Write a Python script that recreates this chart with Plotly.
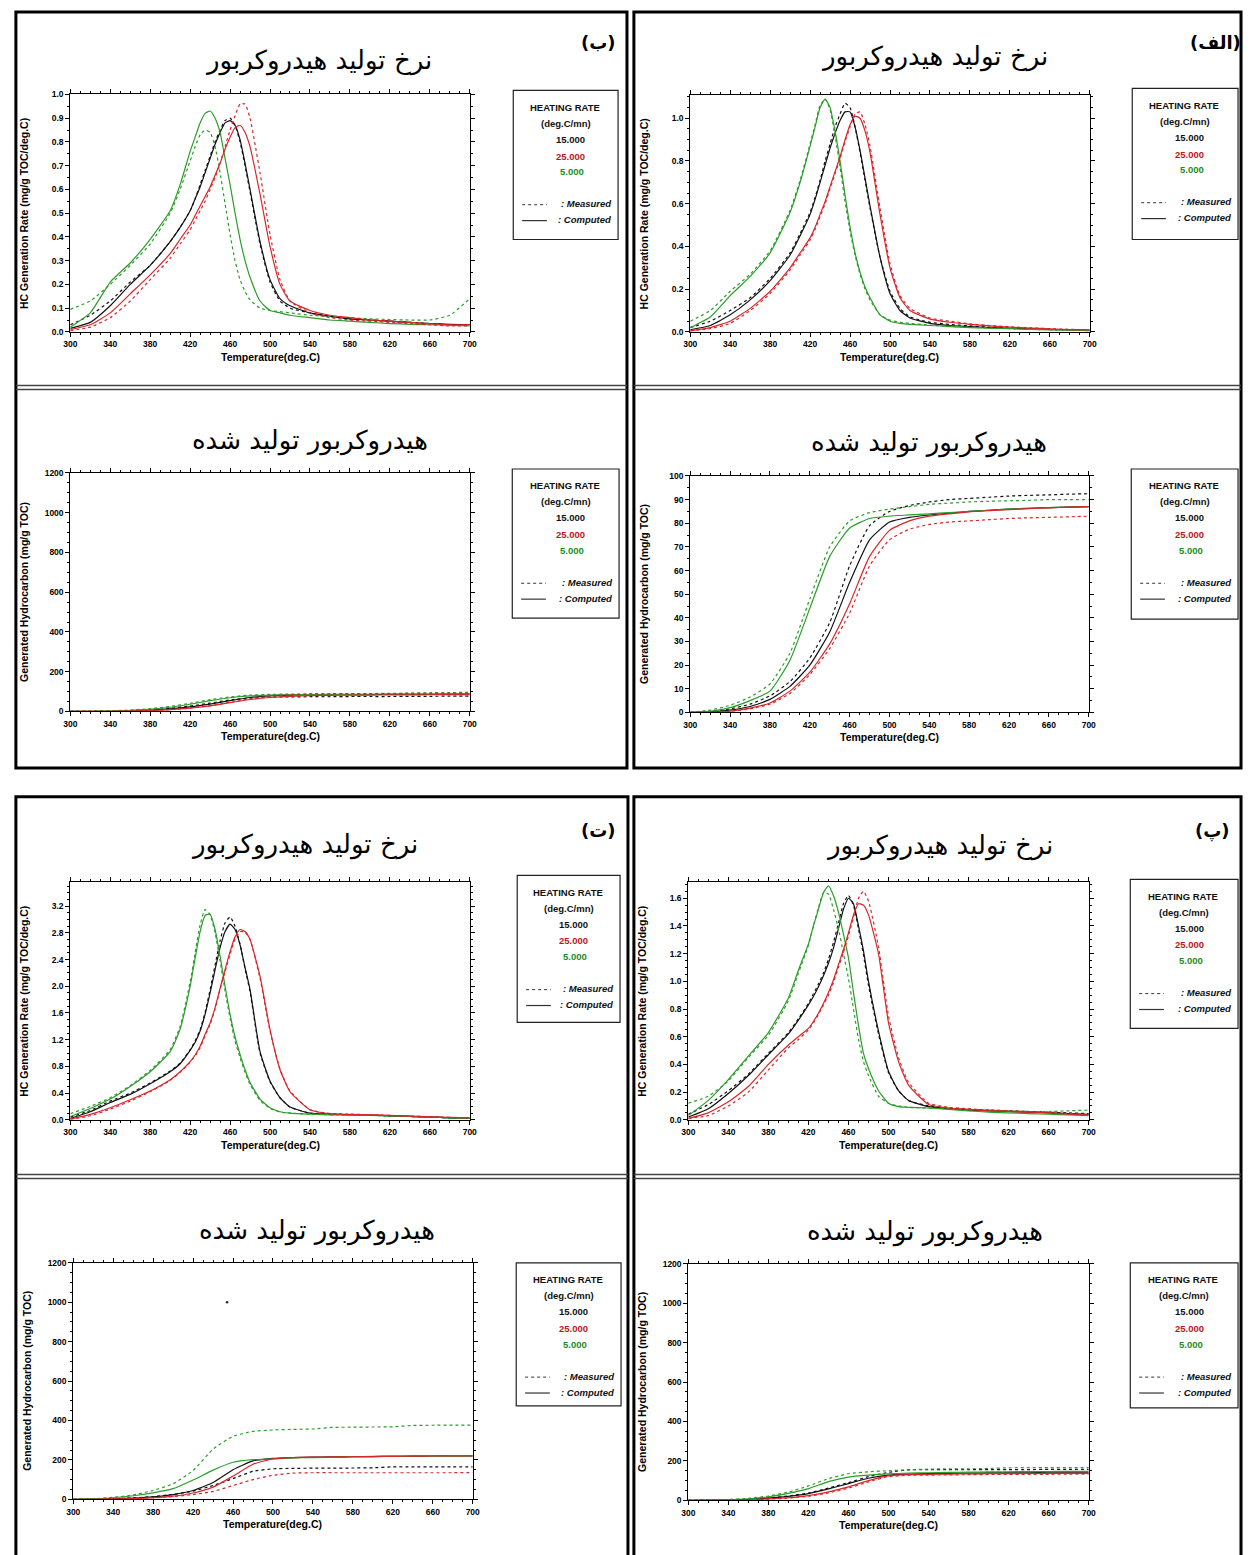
import plotly.graph_objects as go

W, H = 1250, 1555

# ---------------- data ----------------
T_RATE = [300, 320, 340, 360, 380, 400, 410, 420, 425, 430, 435, 440, 445, 450, 455, 460, 465,
          470, 475, 480, 490, 500, 510, 520, 540, 560, 580, 600, 620, 640, 660, 680, 700]
T_CUM = [300, 320, 340, 360, 380, 400, 420, 440, 460, 480, 500, 520, 540, 560, 580, 600, 620,
         640, 660, 680, 700]

HEATING_RATES = ["15.000", "25.000", "5.000"]
RATE_TITLE_FA = "نرخ تولید هیدروکربور"
CUM_TITLE_FA = "هیدروکربور تولید شده"
PANEL_LABELS = ["(الف)", "(ب)", "(پ)", "(ت)"]
RATE_YTITLE = "HC Generation Rate (mg/g TOC/deg.C)"
CUM_YTITLE = "Generated Hydrocarbon (mg/g TOC)"
XTITLE = "Temperature(deg.C)"

# Panel (الف) - rate
A_RATE_15_COMP = [0.01, 0.03, 0.08, 0.15, 0.24, 0.36, 0.45, 0.55, 0.62, 0.70, 0.78, 0.86, 0.93, 0.99, 1.03, 1.03, 0.96,
                  0.85, 0.72, 0.59, 0.35, 0.18, 0.10, 0.065, 0.04, 0.03, 0.025, 0.02, 0.017, 0.014, 0.011, 0.009, 0.007]
A_RATE_15_MEAS = [0.02, 0.05, 0.10, 0.16, 0.25, 0.37, 0.46, 0.56, 0.63, 0.71, 0.80, 0.88, 0.96, 1.02, 1.07, 1.05, 0.96,
                  0.84, 0.71, 0.58, 0.35, 0.19, 0.11, 0.07, 0.045, 0.035, 0.028, 0.022, 0.018, 0.015, 0.012, 0.01, 0.008]
A_RATE_25_COMP = [0.005, 0.02, 0.05, 0.11, 0.19, 0.30, 0.37, 0.44, 0.49, 0.55, 0.61, 0.68, 0.75, 0.82, 0.90, 0.97, 1.01,
                  1.00, 0.94, 0.84, 0.55, 0.30, 0.16, 0.10, 0.06, 0.045, 0.035, 0.028, 0.022, 0.018, 0.014, 0.011, 0.009]
A_RATE_25_MEAS = [0.005, 0.015, 0.04, 0.10, 0.18, 0.29, 0.36, 0.43, 0.48, 0.54, 0.60, 0.67, 0.74, 0.81, 0.89, 0.96, 1.02,
                  1.03, 0.97, 0.87, 0.58, 0.32, 0.17, 0.11, 0.065, 0.05, 0.038, 0.03, 0.024, 0.019, 0.015, 0.012, 0.01]
A_RATE_5_COMP = [0.02, 0.07, 0.17, 0.26, 0.37, 0.56, 0.70, 0.87, 0.96, 1.05, 1.09, 1.05, 0.94, 0.80, 0.64, 0.49, 0.37,
                 0.28, 0.21, 0.16, 0.08, 0.05, 0.04, 0.035, 0.03, 0.025, 0.02, 0.017, 0.015, 0.012, 0.01, 0.008, 0.006]
A_RATE_5_MEAS = [0.05, 0.10, 0.19, 0.27, 0.38, 0.57, 0.71, 0.88, 0.97, 1.06, 1.09, 1.04, 0.92, 0.77, 0.61, 0.47, 0.36,
                 0.27, 0.20, 0.15, 0.08, 0.055, 0.045, 0.04, 0.032, 0.026, 0.022, 0.018, 0.015, 0.012, 0.01, 0.008, 0.006]

# Panel (الف) - cumulative
A_CUM_15_COMP = [0, 0.2, 1, 2.5, 5.5, 11, 20, 34, 55, 73, 80.5, 82.5, 83.5, 84.3, 85, 85.5, 86, 86.3, 86.6, 86.8, 87]
A_CUM_15_MEAS = [0, 0.5, 1.5, 3.5, 7, 13, 23, 38, 62, 79, 85, 87.5, 89, 90, 90.5, 91, 91.5, 91.8, 92, 92.3, 92.5]
A_CUM_25_COMP = [0, 0.1, 0.5, 1.8, 4, 9, 17, 29, 46, 66, 77, 81, 83, 84, 84.8, 85.3, 85.8, 86.2, 86.5, 86.8, 87]
A_CUM_25_MEAS = [0, 0.1, 0.5, 1.5, 3.5, 8, 16, 27, 42, 62, 73, 77.5, 79.5, 80.5, 81, 81.5, 82, 82.3, 82.5, 82.7, 83]
A_CUM_5_COMP = [0, 0.5, 2, 5, 9, 22, 44, 66, 78, 82, 83, 83.5, 84, 84.5, 85, 85.5, 86, 86.3, 86.6, 86.8, 87]
A_CUM_5_MEAS = [0, 1, 3, 6.5, 12, 25, 48, 70, 81, 84.5, 86, 87, 88, 88.5, 89, 89.3, 89.5, 89.7, 90, 90, 90]

# Panel (ب) - rate
B_RATE_15_COMP = [0.015, 0.04, 0.11, 0.20, 0.28, 0.38, 0.44, 0.51, 0.56, 0.61, 0.67, 0.73, 0.79, 0.84, 0.88, 0.89, 0.87,
                  0.81, 0.71, 0.60, 0.38, 0.22, 0.14, 0.11, 0.08, 0.065, 0.055, 0.05, 0.045, 0.04, 0.035, 0.032, 0.03]
B_RATE_15_MEAS = [0.03, 0.07, 0.13, 0.21, 0.28, 0.38, 0.44, 0.51, 0.56, 0.62, 0.68, 0.74, 0.80, 0.85, 0.89, 0.90, 0.87,
                  0.80, 0.70, 0.59, 0.37, 0.21, 0.13, 0.10, 0.08, 0.065, 0.055, 0.05, 0.045, 0.04, 0.035, 0.03, 0.03]
B_RATE_25_COMP = [0.01, 0.03, 0.08, 0.16, 0.24, 0.33, 0.39, 0.45, 0.49, 0.53, 0.57, 0.61, 0.66, 0.71, 0.77, 0.82, 0.86,
                  0.87, 0.84, 0.78, 0.58, 0.36, 0.20, 0.13, 0.09, 0.07, 0.06, 0.05, 0.045, 0.04, 0.035, 0.03, 0.03]
B_RATE_25_MEAS = [0.005, 0.02, 0.06, 0.13, 0.22, 0.31, 0.37, 0.43, 0.47, 0.51, 0.55, 0.60, 0.65, 0.71, 0.78, 0.85, 0.91,
                  0.96, 0.96, 0.90, 0.67, 0.41, 0.22, 0.13, 0.08, 0.06, 0.05, 0.045, 0.04, 0.035, 0.03, 0.025, 0.025]
B_RATE_5_COMP = [0.02, 0.08, 0.21, 0.29, 0.39, 0.51, 0.62, 0.76, 0.82, 0.88, 0.92, 0.93, 0.90, 0.84, 0.73, 0.62, 0.50,
                 0.39, 0.30, 0.23, 0.13, 0.09, 0.08, 0.07, 0.06, 0.05, 0.045, 0.04, 0.035, 0.032, 0.03, 0.028, 0.025]
B_RATE_5_MEAS = [0.095, 0.13, 0.20, 0.28, 0.37, 0.50, 0.60, 0.72, 0.78, 0.83, 0.85, 0.84, 0.78, 0.67, 0.54, 0.41, 0.30,
                 0.22, 0.17, 0.135, 0.10, 0.09, 0.085, 0.08, 0.07, 0.065, 0.06, 0.055, 0.052, 0.05, 0.05, 0.07, 0.14]

# Panel (ب) - cumulative
B_CUM_15_COMP = [0, 0.3, 1, 3, 7, 13, 23, 37, 54, 70, 78, 82, 83.5, 84, 84.5, 85, 85.5, 86, 86.5, 87, 87]
B_CUM_15_MEAS = [0, 0.5, 1.5, 4, 9, 16, 27, 42, 58, 68, 72, 73, 74, 74, 75, 75, 75, 76, 76, 77, 77]
B_CUM_25_COMP = [0, 0.1, 0.5, 1.5, 4, 9, 17, 28, 44, 60, 70, 76, 80, 81, 82, 82.5, 83, 83.5, 84, 84.5, 85]
B_CUM_25_MEAS = [0, 0.1, 0.5, 1.5, 4, 9, 17, 29, 46, 63, 76, 84, 88, 89, 89.5, 90, 90, 90.5, 91, 91, 91]
B_CUM_5_COMP = [0, 0.5, 2, 5, 11, 21, 36, 54, 69, 78, 82, 84, 85, 85.5, 86, 86.5, 87, 87, 87.5, 88, 88]
B_CUM_5_MEAS = [0, 1, 3, 7, 14, 25, 41, 59, 73, 82, 86, 87, 88, 88.5, 89, 90, 91, 92, 94, 95, 96]

# Panel (پ) - rate
P_RATE_15_COMP = [0.02, 0.08, 0.19, 0.32, 0.47, 0.62, 0.72, 0.83, 0.89, 0.96, 1.04, 1.13, 1.24, 1.38, 1.52, 1.60, 1.56,
                  1.40, 1.22, 1.00, 0.64, 0.35, 0.21, 0.14, 0.095, 0.08, 0.07, 0.065, 0.06, 0.055, 0.05, 0.045, 0.04]
P_RATE_15_MEAS = [0.04, 0.11, 0.21, 0.33, 0.48, 0.63, 0.73, 0.84, 0.91, 0.98, 1.06, 1.16, 1.28, 1.42, 1.56, 1.62, 1.55,
                  1.38, 1.19, 0.97, 0.62, 0.34, 0.21, 0.14, 0.10, 0.085, 0.075, 0.07, 0.065, 0.06, 0.055, 0.05, 0.045]
P_RATE_25_COMP = [0.01, 0.05, 0.13, 0.24, 0.40, 0.54, 0.60, 0.66, 0.71, 0.77, 0.84, 0.92, 1.01, 1.12, 1.23, 1.35, 1.48,
                  1.56, 1.55, 1.48, 1.20, 0.70, 0.42, 0.25, 0.11, 0.085, 0.075, 0.065, 0.06, 0.055, 0.05, 0.04, 0.035]
P_RATE_25_MEAS = [0.01, 0.03, 0.10, 0.20, 0.36, 0.52, 0.58, 0.65, 0.70, 0.76, 0.83, 0.90, 0.99, 1.10, 1.21, 1.33, 1.46,
                  1.60, 1.65, 1.58, 1.25, 0.75, 0.45, 0.27, 0.12, 0.09, 0.08, 0.07, 0.065, 0.06, 0.05, 0.045, 0.04]
P_RATE_5_COMP = [0.03, 0.14, 0.29, 0.46, 0.63, 0.88, 1.08, 1.27, 1.40, 1.52, 1.64, 1.69, 1.62, 1.50, 1.34, 1.17, 0.92,
                 0.68, 0.48, 0.37, 0.21, 0.12, 0.095, 0.09, 0.085, 0.075, 0.065, 0.055, 0.05, 0.045, 0.04, 0.035, 0.03]
P_RATE_5_MEAS = [0.12, 0.17, 0.28, 0.45, 0.61, 0.86, 1.06, 1.26, 1.40, 1.53, 1.64, 1.63, 1.52, 1.38, 1.20, 1.02, 0.80,
                 0.58, 0.42, 0.32, 0.17, 0.12, 0.10, 0.09, 0.085, 0.08, 0.075, 0.07, 0.065, 0.06, 0.06, 0.065, 0.07]

# Panel (پ) - cumulative
P_CUM_15_COMP = [0, 0.5, 2, 5, 11, 20, 34, 58, 85, 112, 128, 133, 135, 137, 138, 139, 139, 140, 140, 140, 140]
P_CUM_15_MEAS = [0, 1, 3, 6, 12, 22, 37, 62, 90, 120, 142, 155, 156, 156, 156, 156, 156, 156, 157, 157, 157]
P_CUM_25_COMP = [0, 0.3, 1, 3, 7, 13, 24, 43, 68, 100, 124, 130, 132, 133, 134, 135, 135, 136, 136, 137, 137]
P_CUM_25_MEAS = [0, 0.3, 1, 3, 6, 11, 21, 38, 62, 94, 120, 127, 128, 129, 130, 131, 131, 132, 132, 133, 133]
P_CUM_5_COMP = [0, 1, 3, 8, 18, 35, 59, 95, 118, 128, 134, 138, 140, 142, 143, 144, 145, 146, 146, 147, 147]
P_CUM_5_MEAS = [0, 1, 4, 10, 22, 42, 73, 110, 135, 145, 150, 155, 158, 160, 160, 162, 165, 166, 166, 166, 166]

# Panel (ت) - rate
T_RATE_15_COMP = [0.02, 0.12, 0.26, 0.38, 0.54, 0.72, 0.84, 1.04, 1.16, 1.33, 1.58, 1.90, 2.25, 2.58, 2.82, 2.93, 2.85,
                  2.62, 2.28, 1.95, 1.02, 0.58, 0.33, 0.19, 0.10, 0.085, 0.075, 0.07, 0.06, 0.05, 0.04, 0.03, 0.02]
T_RATE_15_MEAS = [0.04, 0.14, 0.28, 0.40, 0.55, 0.73, 0.85, 1.05, 1.18, 1.35, 1.61, 1.95, 2.32, 2.68, 2.95, 3.04, 2.90,
                  2.63, 2.26, 1.92, 1.00, 0.57, 0.33, 0.19, 0.10, 0.085, 0.075, 0.07, 0.06, 0.05, 0.04, 0.03, 0.02]
T_RATE_25_COMP = [0.01, 0.08, 0.18, 0.30, 0.43, 0.60, 0.72, 0.87, 0.97, 1.10, 1.28, 1.45, 1.68, 1.97, 2.25, 2.52, 2.74,
                  2.85, 2.82, 2.70, 2.15, 1.35, 0.75, 0.42, 0.15, 0.09, 0.08, 0.075, 0.065, 0.055, 0.045, 0.035, 0.03]
T_RATE_25_MEAS = [0.005, 0.06, 0.16, 0.28, 0.42, 0.59, 0.71, 0.86, 0.96, 1.08, 1.26, 1.43, 1.66, 1.95, 2.22, 2.48, 2.70,
                  2.82, 2.81, 2.70, 2.12, 1.33, 0.76, 0.43, 0.15, 0.095, 0.085, 0.075, 0.065, 0.055, 0.045, 0.035, 0.03]
T_RATE_5_COMP = [0.05, 0.17, 0.31, 0.50, 0.72, 1.02, 1.36, 2.00, 2.42, 2.82, 3.06, 3.08, 2.85, 2.45, 2.00, 1.58, 1.24,
                 0.98, 0.75, 0.56, 0.31, 0.18, 0.12, 0.10, 0.085, 0.075, 0.07, 0.065, 0.06, 0.05, 0.04, 0.03, 0.02]
T_RATE_5_MEAS = [0.09, 0.20, 0.33, 0.51, 0.74, 1.05, 1.40, 2.06, 2.50, 2.92, 3.15, 3.07, 2.80, 2.38, 1.93, 1.52, 1.18,
                 0.93, 0.71, 0.53, 0.29, 0.17, 0.115, 0.10, 0.085, 0.075, 0.07, 0.065, 0.06, 0.05, 0.04, 0.03, 0.02]

# Panel (ت) - cumulative
T_CUM_15_COMP = [0, 1, 3, 6, 12, 24, 45, 85, 150, 195, 208, 212, 214, 215, 216, 217, 218, 219, 220, 220, 221]
T_CUM_15_MEAS = [0, 1, 3, 7, 14, 25, 42, 70, 105, 142, 155, 157, 158, 158, 159, 160, 165, 165, 165, 165, 165]
T_CUM_25_COMP = [0, 0.5, 2, 4, 8, 16, 32, 62, 118, 178, 205, 212, 214, 215, 216, 217, 218, 219, 220, 220, 220]
T_CUM_25_MEAS = [0, 0.5, 2, 4, 8, 14, 24, 40, 70, 100, 122, 133, 135, 135, 135, 135, 135, 135, 135, 135, 136]
T_CUM_5_COMP = [0, 2, 8, 18, 33, 54, 98, 148, 188, 201, 205, 210, 212, 214, 216, 218, 219, 220, 220, 221, 221]
T_CUM_5_MEAS = [0, 3, 10, 22, 45, 79, 146, 255, 320, 345, 352, 355, 357, 365, 366, 367, 368, 375, 376, 377, 377]
T_CUM_STRAY_X = [454]
T_CUM_STRAY_Y = [1000]

# ---------------- styling ----------------
COL = {"15": "#111111", "25": "#d8262b", "5": "#2a9d2a"}
LEG_COL = {"15": "#111111", "25": "#c0141c", "5": "#1c8c1c"}
TXT_FONT = "Liberation Sans, Arial, sans-serif"
FA_FONT = "DejaVu Sans, Noto Sans, sans-serif"


def pxx(x):
    return x / W


def pyy(y):
    return 1 - y / H


subplots = [
    dict(frame=(691, 91, 1095, 329), yr=[0, 1.107], dt=0.2, mn=0.05, fmt=".1f", ytitle=RATE_YTITLE,
         title=RATE_TITLE_FA, tpos=(938, 52), leg=(1138, 84, 1245, 236), x=T_RATE,
         data={"15": (A_RATE_15_COMP, A_RATE_15_MEAS), "25": (A_RATE_25_COMP, A_RATE_25_MEAS),
               "5": (A_RATE_5_COMP, A_RATE_5_MEAS)}),
    dict(frame=(691, 474, 1094, 712), yr=[0, 100], dt=10, mn=5, fmt="d", ytitle=CUM_YTITLE,
         title=CUM_TITLE_FA, tpos=(932, 440), leg=(1137, 467, 1245, 618), x=T_CUM,
         data={"15": (A_CUM_15_COMP, A_CUM_15_MEAS), "25": (A_CUM_25_COMP, A_CUM_25_MEAS),
               "5": (A_CUM_5_COMP, A_CUM_5_MEAS)}),
    dict(frame=(64, 90, 468, 329), yr=[0, 1.0], dt=0.1, mn=0.05, fmt=".1f", ytitle=RATE_YTITLE,
         title=RATE_TITLE_FA, tpos=(315, 56), leg=(512, 86, 618, 236), x=T_RATE,
         data={"15": (B_RATE_15_COMP, B_RATE_15_MEAS), "25": (B_RATE_25_COMP, B_RATE_25_MEAS),
               "5": (B_RATE_5_COMP, B_RATE_5_MEAS)}),
    dict(frame=(64, 471, 468, 711), yr=[0, 1200], dt=200, mn=50, fmt="d", ytitle=CUM_YTITLE,
         title=CUM_TITLE_FA, tpos=(306, 438), leg=(511, 467, 619, 617), x=T_CUM,
         data={"15": (B_CUM_15_COMP, B_CUM_15_MEAS), "25": (B_CUM_25_COMP, B_CUM_25_MEAS),
               "5": (B_CUM_5_COMP, B_CUM_5_MEAS)}),
    dict(frame=(689, 883, 1094, 1122), yr=[0, 1.715], dt=0.2, mn=0.05, fmt=".1f", ytitle=RATE_YTITLE,
         title=RATE_TITLE_FA, tpos=(943, 846), leg=(1136, 880, 1245, 1030), x=T_RATE,
         data={"15": (P_RATE_15_COMP, P_RATE_15_MEAS), "25": (P_RATE_25_COMP, P_RATE_25_MEAS),
               "5": (P_RATE_5_COMP, P_RATE_5_MEAS)}),
    dict(frame=(689, 1267, 1094, 1505), yr=[0, 1200], dt=200, mn=50, fmt="d", ytitle=CUM_YTITLE,
         title=CUM_TITLE_FA, tpos=(928, 1234), leg=(1136, 1266, 1245, 1412), x=T_CUM,
         data={"15": (P_CUM_15_COMP, P_CUM_15_MEAS), "25": (P_CUM_25_COMP, P_CUM_25_MEAS),
               "5": (P_CUM_5_COMP, P_CUM_5_MEAS)}),
    dict(frame=(64, 883, 468, 1122), yr=[0, 3.557], dt=0.4, mn=0.1, fmt=".1f", ytitle=RATE_YTITLE,
         title=RATE_TITLE_FA, tpos=(301, 845), leg=(516, 876, 620, 1024), x=T_RATE,
         data={"15": (T_RATE_15_COMP, T_RATE_15_MEAS), "25": (T_RATE_25_COMP, T_RATE_25_MEAS),
               "5": (T_RATE_5_COMP, T_RATE_5_MEAS)}),
    dict(frame=(67, 1266, 471, 1504), yr=[0, 1200], dt=200, mn=50, fmt="d", ytitle=CUM_YTITLE,
         title=CUM_TITLE_FA, tpos=(314, 1233), leg=(515, 1266, 621, 1410), x=T_CUM,
         data={"15": (T_CUM_15_COMP, T_CUM_15_MEAS), "25": (T_CUM_25_COMP, T_CUM_25_MEAS),
               "5": (T_CUM_5_COMP, T_CUM_5_MEAS)}),
]

fig = go.Figure()
layout = dict(width=W, height=H, margin=dict(l=0, r=0, t=0, b=0), paper_bgcolor="white",
              plot_bgcolor="white", showlegend=False)
annotations = []
shapes = []


def tick_font():
    return dict(family=TXT_FONT, size=8.5, color="black", weight="bold")


for i, sp in enumerate(subplots, start=1):
    x0, y0, x1, y1 = sp["frame"]
    xname = "xaxis" if i == 1 else f"xaxis{i}"
    yname = "yaxis" if i == 1 else f"yaxis{i}"
    xref = "x" if i == 1 else f"x{i}"
    yref = "y" if i == 1 else f"y{i}"
    common = dict(showline=True, linecolor="black", linewidth=1, mirror="allticks", ticks="outside",
                  ticklen=4, tickwidth=1, tickcolor="black", showgrid=False, zeroline=False,
                  tickfont=tick_font(), fixedrange=True)
    layout[xname] = dict(domain=[pxx(x0), pxx(x1)], range=[300, 700], tick0=300, dtick=40,
                         anchor=yref,
                         minor=dict(tick0=300, dtick=10, ticks="outside", ticklen=2, tickcolor="black",
                                    showgrid=False), **common)
    layout[yname] = dict(domain=[pyy(y1), pyy(y0)], range=sp["yr"], tick0=0, dtick=sp["dt"],
                         tickformat=sp["fmt"], anchor=xref,
                         minor=dict(tick0=0, dtick=sp["mn"], ticks="outside", ticklen=2, tickcolor="black",
                                    showgrid=False), **common)
    for key in ["15", "5", "25"]:
        comp, meas = sp["data"][key]
        fig.add_trace(go.Scatter(x=sp["x"], y=meas, mode="lines", xaxis=xref, yaxis=yref,
                                 line=dict(color=COL[key], width=1.2, dash="dot", shape="spline",
                                           smoothing=0.5),
                                 hoverinfo="skip"))
        fig.add_trace(go.Scatter(x=sp["x"], y=comp, mode="lines", xaxis=xref, yaxis=yref,
                                 line=dict(color=COL[key], width=1.2, shape="spline", smoothing=0.5),
                                 hoverinfo="skip"))
    if i == 8:
        fig.add_trace(go.Scatter(x=T_CUM_STRAY_X, y=T_CUM_STRAY_Y, mode="markers", xaxis=xref, yaxis=yref,
                                 marker=dict(color="#551111", size=2.5), hoverinfo="skip"))

    # axis titles
    annotations.append(dict(text=XTITLE, x=pxx((x0 + x1) / 2), y=pyy(y1 + 25), xref="paper", yref="paper",
                            xanchor="center", yanchor="middle", showarrow=False,
                            font=dict(family=TXT_FONT, size=10.5, color="black", weight="bold")))
    annotations.append(dict(text=sp["ytitle"], x=pxx(x0 - 47), y=pyy((y0 + y1) / 2), xref="paper",
                            yref="paper", xanchor="center", yanchor="middle", showarrow=False,
                            textangle=-90,
                            font=dict(family=TXT_FONT, size=10.5, color="black", weight="bold")))
    # Persian title
    tx, ty = sp["tpos"]
    annotations.append(dict(text=sp["title"], x=pxx(tx), y=pyy(ty), xref="paper", yref="paper",
                            xanchor="center", yanchor="middle", showarrow=False,
                            font=dict(family=FA_FONT, size=26, color="black")))
    # legend box
    lx0, ly0, lx1, ly1 = sp["leg"]
    lw = lx1 - lx0
    shapes.append(dict(type="rect", xref="paper", yref="paper", x0=pxx(lx0), x1=pxx(lx1), y0=pyy(ly1),
                       y1=pyy(ly0), line=dict(color="#222222", width=1.2), fillcolor="rgba(0,0,0,0)"))
    leg_items = [("HEATING RATE", 0.49, 17, "#111111"), ("(deg.C/mn)", 0.50, 33, "#111111"),
                 (HEATING_RATES[0], 0.545, 49, LEG_COL["15"]), (HEATING_RATES[1], 0.545, 66, LEG_COL["25"]),
                 (HEATING_RATES[2], 0.56, 82, LEG_COL["5"])]
    for txt, fx, dy, c in leg_items:
        annotations.append(dict(text=txt, x=pxx(lx0 + fx * lw), y=pyy(ly0 + dy), xref="paper", yref="paper",
                                xanchor="center", yanchor="middle", showarrow=False,
                                font=dict(family=TXT_FONT, size=9.5, color=c, weight="bold")))
    for txt, dy, dash in [(": Measured", 114, "dot"), (": Computed", 130, "solid")]:
        annotations.append(dict(text=txt, x=pxx(lx1 - 5), y=pyy(ly0 + dy), xref="paper", yref="paper",
                                xanchor="right", yanchor="middle", showarrow=False,
                                font=dict(family=TXT_FONT, size=9.5, color="#111111", weight="bold",
                                          style="italic")))
        shapes.append(dict(type="line", xref="paper", yref="paper", x0=pxx(lx0 + 9), x1=pxx(lx0 + 34),
                           y0=pyy(ly0 + dy + 1), y1=pyy(ly0 + dy + 1),
                           line=dict(color="#333333", width=1.2 if dash == "solid" else 1, dash=dash)))

# panel labels
for txt, (lx, ly) in zip(PANEL_LABELS, [(1222, 38), (598, 38), (1219, 831), (598, 831)]):
    annotations.append(dict(text=txt, x=pxx(lx), y=pyy(ly), xref="paper", yref="paper", xanchor="center",
                            yanchor="middle", showarrow=False,
                            font=dict(family=FA_FONT, size=18, color="black", weight="bold")))

# panel borders
for (bx0, by0, bx1, by1) in [(9, 7, 627, 768), (634, 7, 1248, 768), (9, 797, 628, 1562), (634, 797, 1248, 1562)]:
    shapes.append(dict(type="rect", xref="paper", yref="paper", x0=pxx(bx0), x1=pxx(bx1), y0=pyy(by1),
                       y1=pyy(by0), line=dict(color="black", width=3), fillcolor="rgba(0,0,0,0)"))

# double separators
for (sx0, sx1, sy) in [(9, 627, 383), (634, 1248, 383), (9, 628, 1177), (634, 1248, 1177)]:
    for off in (0, 4):
        shapes.append(dict(type="line", xref="paper", yref="paper", x0=pxx(sx0), x1=pxx(sx1),
                           y0=pyy(sy + off), y1=pyy(sy + off), line=dict(color="#444444", width=1.5)))

layout["annotations"] = annotations
layout["shapes"] = shapes
fig.update_layout(**layout)
fig.write_html("out.html")
